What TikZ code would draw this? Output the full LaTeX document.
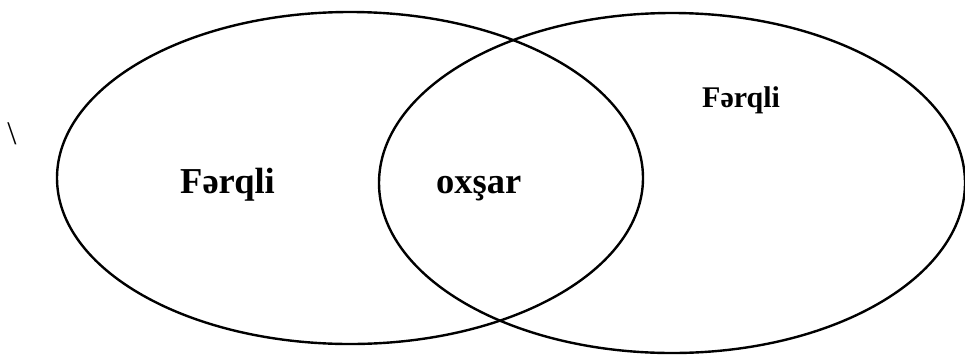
\documentclass[tikz,border=0pt]{standalone}
\usepackage{fontspec}
\setmainfont{Liberation Serif}
\begin{document}
\begin{tikzpicture}[x=1pt,y=-1pt,
  venn/.style={draw=black,line width=2.4pt},
  bigtext/.style={font=\fontsize{36.5}{40}\selectfont\bfseries,inner sep=0pt,anchor=base west},
  smalltext/.style={font=\fontsize{30}{34}\selectfont\bfseries,inner sep=0pt,anchor=base west}]
\useasboundingbox (0,0) rectangle (965,354);
\draw[venn] (350,178) ellipse [x radius=293, y radius=166];
\draw[venn] (672,183) ellipse [x radius=293, y radius=170];
\node[bigtext] (l1) at (180,193) {Fərqli};
\node[bigtext] (l2) at (436,193) {oxşar};
\node[smalltext] (l3) at (702,107) {Fərqli};
\node[font=\fontsize{33}{36}\selectfont,inner sep=0pt] (bs) at (12,134) {\textbackslash};
\end{tikzpicture}
\end{document}
